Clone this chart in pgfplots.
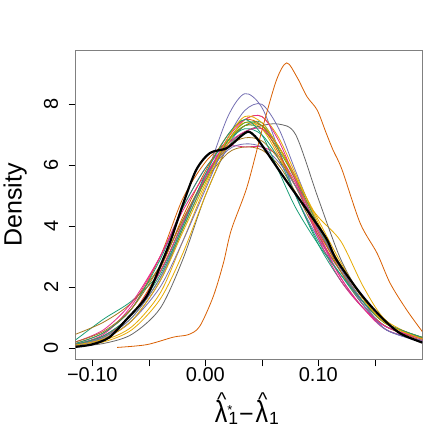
\documentclass[border=0pt]{standalone}
\usepackage{graphicx}
\usepackage{fontspec}
\setmainfont{Liberation Sans}
\usepackage{pgfplots}
\usepackage{pgfplotstable}
\pgfplotsset{compat=1.18}
\definecolor{d1}{HTML}{1B9E77}
\definecolor{d2}{HTML}{D95F02}
\definecolor{d3}{HTML}{7570B3}
\definecolor{d4}{HTML}{E7298A}
\definecolor{d5}{HTML}{66A61E}
\definecolor{d6}{HTML}{E6AB02}
\definecolor{d7}{HTML}{A6761D}
\definecolor{d8}{HTML}{666666}
\newcommand{\lam}{\scalebox{1}[1.22]{λ}}
\newcommand{\hatlam}{\ooalign{\lam\cr\hfil\hspace{1.5pt}\raisebox{16.2pt}{\fontsize{20}{20}\selectfont\textasciicircum}\hfil\cr}}
\newcommand{\subone}{\hspace{1pt}\raisebox{-2.3pt}{\fontsize{17.6}{18}\selectfont 1}}
\newcommand{\supstar}{\rlap{\raisebox{8.2pt}{\fontsize{13}{13}\selectfont *}}}
\pgfplotstableread{
x      c1   c2   c3   c4   c5   c6   c7   c8   c9   c10  c11  c12  c13  c14  c15  c16  c17  c18  c19
-0.115 0.26 0.15 0.10 0.12 0.12 0.08 0.45 0.05 0.15 0.10 0.08 0.20 0.10 0.05 0.20 0.10 0.12 0.12 0.10
-0.09  0.95 0.50 0.30 0.45 0.40 0.25 0.85 0.15 0.50 0.35 0.30 0.60 0.35 0.20 0.55 0.35 0.40 0.40 0.30
-0.065 1.55 1.30 0.90 1.40 1.10 0.70 1.50 0.45 1.30 1.10 0.90 1.50 1.00 0.60 1.30 1.00 1.10 1.10 0.90
-0.04  2.50 3.00 2.20 3.00 2.50 1.80 2.70 1.30 2.90 2.60 2.00 3.00 2.30 1.60 2.70 2.30 2.50 2.40 2.20
-0.02  4.10 4.90 3.90 4.60 4.10 3.50 4.20 2.90 4.60 4.30 3.50 4.50 3.90 3.10 4.20 4.00 4.10 4.00 3.80
0.0    5.60 6.10 5.60 5.90 5.60 5.30 5.50 5.00 5.90 5.80 5.20 5.70 5.50 5.00 5.60 5.60 5.60 5.70 5.40
0.02   6.70 6.80 7.60 6.60 6.80 6.80 6.40 6.60 6.80 7.00 6.90 6.70 6.80 6.70 6.60 6.50 6.90 7.00 6.90
0.035  7.30 7.30 8.35 6.60 7.30 7.40 6.60 7.10 7.20 7.50 7.80 7.10 7.40 7.50 6.90 6.70 7.50 7.50 7.60
0.05   7.40 7.30 7.90 6.60 7.20 7.20 6.50 7.30 7.00 7.30 8.00 7.20 7.30 7.60 6.80 6.60 7.60 7.00 7.40
0.065  6.50 6.60 6.50 6.30 6.50 6.30 6.00 7.35 6.20 6.40 7.20 6.60 6.60 6.90 6.20 6.10 6.80 5.80 6.60
0.08   5.00 5.50 5.00 5.40 5.50 5.30 5.10 7.00 5.00 5.30 5.80 5.60 5.60 5.70 5.30 5.30 5.50 4.60 5.60
0.1    3.50 3.90 3.60 3.70 3.90 4.30 3.70 4.90 3.40 3.80 4.00 3.80 4.00 4.10 3.90 3.90 3.60 3.40 4.20
0.12   2.40 2.50 2.50 2.30 2.60 3.50 2.50 2.90 2.20 2.60 2.60 2.30 2.70 2.70 2.60 2.60 2.20 2.40 2.80
0.14   1.40 1.40 1.40 1.30 1.50 2.00 1.50 1.60 1.30 1.50 1.40 1.30 1.60 1.60 1.50 1.50 1.30 1.50 1.60
0.16   0.70 0.70 0.60 0.60 0.80 0.90 0.80 0.80 0.70 0.80 0.60 0.70 0.80 0.80 0.80 0.60 0.70 0.80 0.80
0.192  0.30 0.25 0.20 0.25 0.30 0.30 0.30 0.30 0.30 0.35 0.20 0.30 0.35 0.30 0.35 0.25 0.30 0.35 0.30
}\curves
\begin{document}
\begin{tikzpicture}
\begin{axis}[
  scale only axis,
  width=346.6pt, height=308.3pt,
  xmin=-0.1147, xmax=0.192,
  ymin=-0.37, ymax=9.75,
  axis line style={draw=gray, line width=1pt},
  tick style={black, line width=0.6pt},
  tick align=outside,
  major tick length=7pt,
  xtick pos=left, ytick pos=left,
  xtick={-0.10,-0.05,0,0.05,0.10,0.15},
  xticklabels={−0.10,,0.00,,0.10,},
  ytick={0,2,4,6,8},
  yticklabels={0,2,4,6,8},
  /pgf/number format/assume math mode=true,
  xticklabel style={font=\fontsize{20}{22}\selectfont, anchor=base, yshift=-15pt},
  yticklabel style={font=\fontsize{20}{22}\selectfont, rotate=90, anchor=south, yshift=7pt},
  xlabel={\hatlam\supstar\subone\hspace{1pt}−\hspace{2pt}\hatlam\subone},
  ylabel={Density},
  xlabel style={font=\fontsize{25}{30}\selectfont, at={(axis description cs:0.494,-0.205)}, anchor=base},
  ylabel style={font=\fontsize{25}{30}\selectfont, at={(axis description cs:-0.175,0.5)}, anchor=center, rotate=0},
  every axis plot/.append style={smooth, line width=0.8pt, no markers},
  clip=true,
]
\addplot[d1] table[x=x,y=c1]{\curves};
\addplot[d2] table[x=x,y=c2]{\curves};
\addplot[d3] table[x=x,y=c3]{\curves};
\addplot[d4] table[x=x,y=c4]{\curves};
\addplot[d5] table[x=x,y=c5]{\curves};
\addplot[d6] table[x=x,y=c6]{\curves};
\addplot[d7] table[x=x,y=c7]{\curves};
\addplot[d8] table[x=x,y=c8]{\curves};
\addplot[d1] table[x=x,y=c9]{\curves};
\addplot[d2] table[x=x,y=c10]{\curves};
\addplot[d3] table[x=x,y=c11]{\curves};
\addplot[d4] table[x=x,y=c12]{\curves};
\addplot[d5] table[x=x,y=c13]{\curves};
\addplot[d6] table[x=x,y=c14]{\curves};
\addplot[d7] table[x=x,y=c15]{\curves};
\addplot[d3] table[x=x,y=c16]{\curves};
\addplot[d4] table[x=x,y=c17]{\curves};
\addplot[d1] table[x=x,y=c18]{\curves};
\addplot[d6] table[x=x,y=c19]{\curves};
% outlier
\addplot[d2] coordinates {(-0.078,0.02) (-0.052,0.11) (-0.028,0.36) (-0.015,0.44) (-0.005,0.71) (0.007,1.69) (0.016,2.79) (0.023,3.88) (0.037,5.3) (0.051,7.27) (0.063,8.8) (0.072,9.36) (0.081,8.9) (0.090,8.25) (0.099,7.81) (0.107,7.05) (0.113,6.5) (0.121,5.85) (0.137,4.1) (0.152,3.11) (0.1635,2.13) (0.178,1.26) (0.192,0.54)};
% overall
\addplot[black, line width=2.2pt] coordinates {(-0.1147,0.04) (-0.10,0.12) (-0.085,0.35) (-0.07,0.93) (-0.052,1.69) (-0.040,2.68) (-0.030,3.6) (-0.0195,4.75) (-0.008,5.85) (0.004,6.4) (0.019,6.56) (0.031,6.94) (0.038,7.10) (0.044,6.95) (0.051,6.61) (0.069,5.63) (0.09,4.53) (0.107,3.6) (0.116,2.9) (0.137,1.8) (0.155,1.04) (0.172,0.49) (0.192,0.18)};
\end{axis}
\pgfresetboundingbox
\path[use as bounding box] ([xshift=-75.7pt,yshift=-76.7pt]current axis.south west) rectangle ++(436pt,436pt);
\end{tikzpicture}
\end{document}
